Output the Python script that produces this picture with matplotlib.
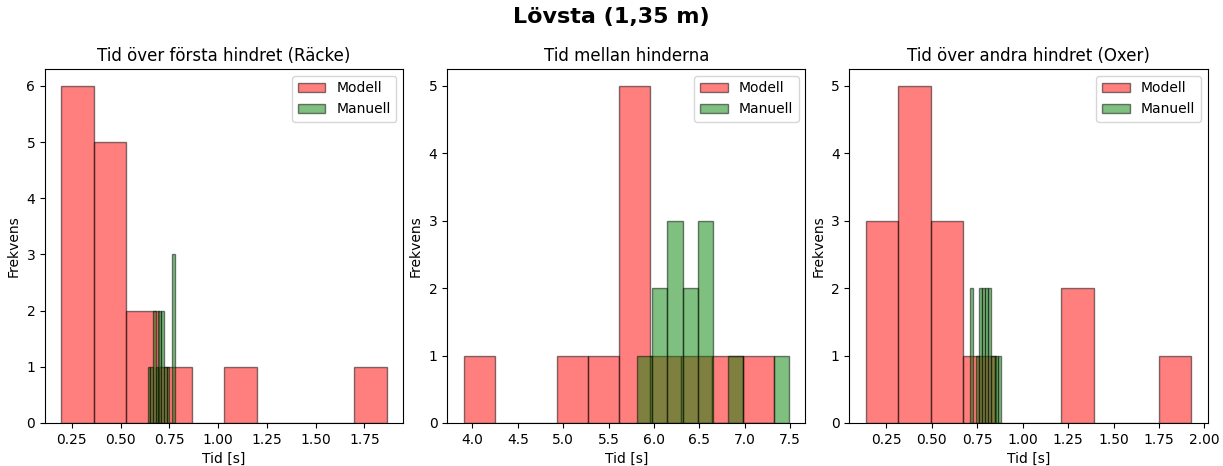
import matplotlib
matplotlib.use("Agg")
import matplotlib.pyplot as plt

# Tider i sekunder, avlästa ur histogrammen
rake_modell = [0.196, 0.22, 0.25, 0.28, 0.31, 0.34,
               0.38, 0.42, 0.45, 0.48, 0.51,
               0.58, 0.64, 0.78, 1.10, 1.866]
rake_manuell = [0.639, 0.659, 0.670, 0.675, 0.687, 0.698, 0.703,
                0.712, 0.717, 0.728, 0.742, 0.768, 0.772, 0.777]

mellan_modell = [3.901, 5.10, 5.45, 5.65, 5.72, 5.80, 5.86, 5.92,
                 6.10, 6.45, 6.80, 7.324]
mellan_manuell = [5.81, 6.05, 6.10, 6.18, 6.23, 6.28, 6.37, 6.43,
                  6.52, 6.57, 6.62, 6.90, 7.489]

oxer_modell = [0.136, 0.20, 0.27, 0.33, 0.37, 0.41, 0.44, 0.48,
               0.52, 0.58, 0.64, 0.76, 1.26, 1.33, 1.929]
oxer_manuell = [0.7087, 0.715, 0.75, 0.765, 0.770, 0.781, 0.788,
                0.799, 0.805, 0.816, 0.822, 0.835, 0.853, 0.8794]

titlar = ["Tid över första hindret (Räcke)",
          "Tid mellan hinderna",
          "Tid över andra hindret (Oxer)"]

data = [(rake_modell, rake_manuell),
        (mellan_modell, mellan_manuell),
        (oxer_modell, oxer_manuell)]

fig, axes = plt.subplots(1, 3, figsize=(12.23, 4.66), dpi=100)
fig.subplots_adjust(left=0.0368, right=0.9875, top=0.852, bottom=0.0923,
                    wspace=0.1227)

for ax, titel, (modell, manuell) in zip(axes, titlar, data):
    ax.hist(modell, bins=10, alpha=0.5, color="red", edgecolor="black",
            label="Modell")
    ax.hist(manuell, bins=10, alpha=0.5, color="green", edgecolor="black",
            label="Manuell")
    ax.set_title(titel)
    ax.set_xlabel("Tid [s]")
    ax.set_ylabel("Frekvens")
    ax.legend(loc="upper right")

fig.suptitle("Lövsta (1,35 m)", fontsize=16, fontweight="bold", y=0.985)

fig.savefig("out.png", dpi=100)
